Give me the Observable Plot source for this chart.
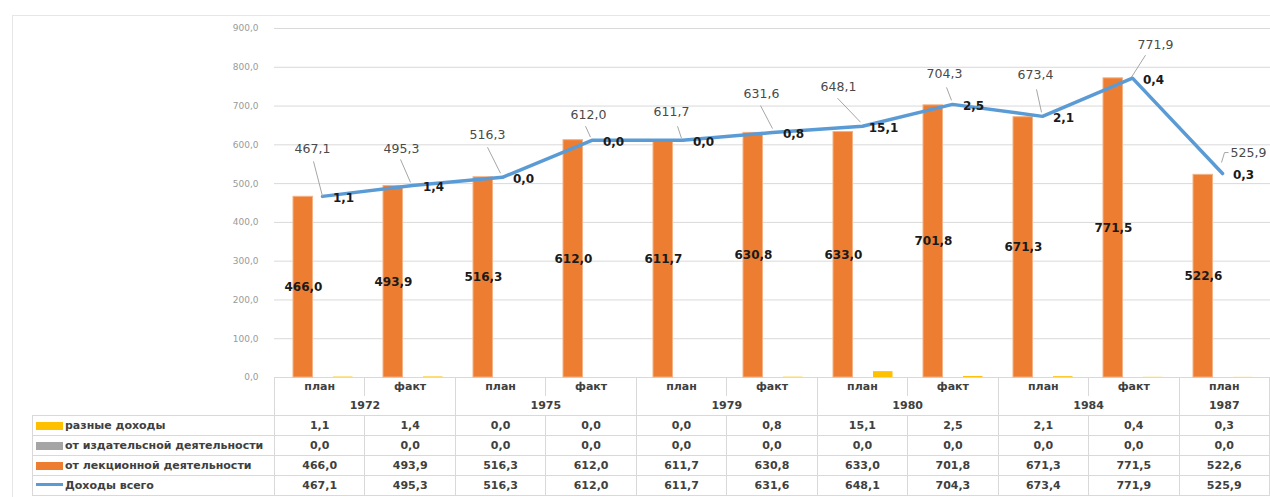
<!DOCTYPE html>
<html>
<head>
<meta charset="utf-8">
<script src="https://cdn.jsdelivr.net/npm/d3@7"></script>
<script src="https://cdn.jsdelivr.net/npm/@observablehq/plot@0.6"></script>
<style>
html, body { margin: 0; padding: 0; background: #fff; }
#wrap { position: relative; width: 1270px; height: 497px; overflow: hidden; font-family: "DejaVu Sans", sans-serif; }
#chart { position: absolute; left: 0; top: 0; }
#frame { position: absolute; left: 12px; top: 15px; width: 1400px; height: 600px; border-top: 1px solid #e6e6e6; border-left: 1px solid #e6e6e6; }
#tbl { position: absolute; left: 32px; top: 377px; border-collapse: collapse; table-layout: fixed; font-size: 11px; font-weight: bold; color: #404040; }
#tbl td { padding: 0; height: 19px; line-height: 12px; text-align: center; border: 1px solid #d9d9d9; white-space: nowrap; overflow: hidden; }
#tbl td.blank { border: none; }
#tbl tr.cat td { border-bottom: none; border-top: none; }
#tbl tr.yr td { border-top: none; }
#tbl td.leg { text-align: left; }
.sw { display: inline-block; width: 27px; height: 8px; margin-left: 3px; margin-right: 2px; vertical-align: -1px; }
.sw.ln { height: 3px; vertical-align: 3px; }
</style>
</head>
<body>
<div id="wrap">
  <div id="frame"></div>
  <div id="chart"></div>
</div>
<script>
// ---- data ----
const years = ["1972", "1972", "1975", "1975", "1979", "1979", "1980", "1980", "1984", "1984", "1987"];
const kinds = ["план", "факт", "план", "факт", "план", "факт", "план", "факт", "план", "факт", "план"];
const miscIncome = [1.1, 1.4, 0.0, 0.0, 0.0, 0.8, 15.1, 2.5, 2.1, 0.4, 0.3];
const publishing = [0.0, 0.0, 0.0, 0.0, 0.0, 0.0, 0.0, 0.0, 0.0, 0.0, 0.0];
const lecture = [466.0, 493.9, 516.3, 612.0, 611.7, 630.8, 633.0, 701.8, 671.3, 771.5, 522.6];
const total = [467.1, 495.3, 516.3, 612.0, 611.7, 631.6, 648.1, 704.3, 673.4, 771.9, 525.9];
const yTicks = [0, 100, 200, 300, 400, 500, 600, 700, 800, 900];
const seriesNames = ["разные доходы", "от издательсной деятельности", "от лекционной деятельности", "Доходы всего"];

// ---- layout for the total-value callouts (pixel offsets) ----
const calloutDx = [-10, -11, -15, -4, -11, -11, -24, -8, -7, 23, 26];
const calloutDy = [-47, -36, -42, -25, -28, -39, -39, -30, -41, -33, -21];
const leaderPts = [
  [[0, 0], [-9, -35]],
  [[-2, -3], [-12, -26]],
  [[-2, -4], [-15, -30]],
  [[-2, -3], [-7, -14]],
  [[-1, -2], [-5, -14]],
  [[0, -4], [-12, -27]],
  [[-2, -4], [-25, -28]],
  [[-1, -4], [-6, -17]],
  [[-1, -4], [-6, -27]],
  [[-1, -1], [13, -23]],
  [[-1, -11], [2, -21], [6, -21]]
];

const ORANGE = "#ED7D31", GRAY = "#A5A5A5", YELLOW = "#FFC000", BLUE = "#5B9BD5";
const fmt = v => v.toFixed(1).replace(".", ",");
const keys = years.map((y, i) => y + " " + kinds[i] + " " + i);
const rows = keys.map((k, i) => ({k, i, misc: miscIncome[i], pub: publishing[i], lecture: lecture[i], total: total[i]}));

function leaderCurve(pts) {
  return ctx => {
    let n = 0;
    return {
      areaStart() {}, areaEnd() {},
      lineStart() { n = 0; },
      lineEnd() {},
      point(x, y) {
        if (n++ === 0) {
          ctx.moveTo(x + pts[0][0], y + pts[0][1]);
          for (let j = 1; j < pts.length; j++) ctx.lineTo(x + pts[j][0], y + pts[j][1]);
        }
      }
    };
  };
}

const marks = [
  Plot.ruleY(yTicks, {stroke: "#d9d9d9", strokeWidth: 1}),
  Plot.axisY(yTicks, {tickSize: 0, tickPadding: 16, tickFormat: fmt, fontSize: 9, fill: "#9a9a9a", label: null}),
  Plot.barY(rows, {x: "k", y: "lecture", fill: ORANGE, stroke: "#F4B183", strokeWidth: 1, insetLeft: 16, insetRight: 54.5}),
  Plot.barY(rows, {x: "k", y: "pub", fill: GRAY, insetLeft: 36, insetRight: 34.5}),
  Plot.barY(rows, {x: "k", y: "misc", fill: YELLOW, insetLeft: 56, insetRight: 14.5}),
  Plot.text(rows, {x: "k", y: d => d.lecture / 2, text: d => fmt(d.lecture), dx: -19, fontSize: 12, fontWeight: "bold", fill: "#1a1a1a"}),
  Plot.line(rows, {x: "k", y: "total", stroke: BLUE, strokeWidth: 3.5, strokeLinejoin: "round"}),
  Plot.text(rows, {x: "k", y: "total", text: d => fmt(d.misc), dx: 21, dy: 2, fontSize: 12, fontWeight: "bold", fill: "#1a1a1a"})
];
rows.forEach((r, i) => {
  marks.push(Plot.link([r], {x1: "k", x2: "k", y1: "total", y2: "total", stroke: "#a6a6a6", strokeWidth: 1, curve: leaderCurve(leaderPts[i])}));
  marks.push(Plot.text([r], {x: "k", y: "total", text: d => fmt(d.total), dx: calloutDx[i], dy: calloutDy[i], fontSize: 12.5, fill: "#4a4a4a"}));
});

const chart = Plot.plot({
  width: 1270,
  height: 378,
  marginLeft: 274,
  marginRight: 0,
  marginTop: 28,
  marginBottom: 1,
  style: {fontFamily: "DejaVu Sans, sans-serif", overflow: "visible", background: "transparent"},
  x: {type: "band", domain: keys, padding: 0, axis: null},
  y: {domain: [0, 900], axis: null},
  marks
});
document.getElementById("chart").appendChild(chart);

// ---- data table below the chart ----
const tbl = document.createElement("table");
tbl.id = "tbl";
const cg = document.createElement("colgroup");
const c0 = document.createElement("col"); c0.style.width = "242px"; cg.appendChild(c0);
keys.forEach(() => { const c = document.createElement("col"); c.style.width = "90.5px"; cg.appendChild(c); });
tbl.appendChild(cg);

const trCat = document.createElement("tr"); trCat.className = "cat";
let td = document.createElement("td"); td.className = "blank"; trCat.appendChild(td);
kinds.forEach(k => { const c = document.createElement("td"); c.textContent = k; trCat.appendChild(c); });
tbl.appendChild(trCat);

const trYr = document.createElement("tr"); trYr.className = "yr";
td = document.createElement("td"); td.className = "blank"; trYr.appendChild(td);
for (let i = 0; i < years.length;) {
  let j = i; while (j < years.length && years[j] === years[i]) j++;
  const c = document.createElement("td"); c.colSpan = j - i; c.textContent = years[i]; trYr.appendChild(c);
  i = j;
}
tbl.appendChild(trYr);

const seriesVals = [miscIncome, publishing, lecture, total];
const seriesCols = [YELLOW, GRAY, ORANGE, BLUE];
seriesNames.forEach((name, s) => {
  const tr = document.createElement("tr");
  const l = document.createElement("td"); l.className = "leg";
  const sw = document.createElement("span"); sw.className = "sw" + (s === 3 ? " ln" : ""); sw.style.background = seriesCols[s];
  l.appendChild(sw); l.appendChild(document.createTextNode(name));
  tr.appendChild(l);
  seriesVals[s].forEach(v => { const c = document.createElement("td"); c.textContent = fmt(v); tr.appendChild(c); });
  tbl.appendChild(tr);
});
document.getElementById("wrap").appendChild(tbl);
</script>
</body>
</html>
